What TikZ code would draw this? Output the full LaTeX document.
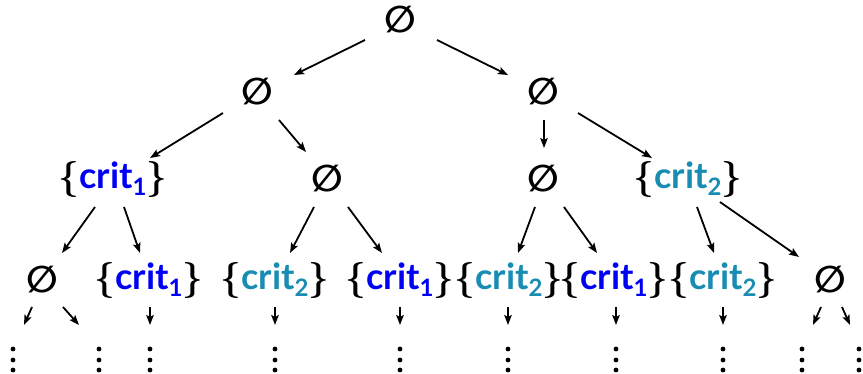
\documentclass[tikz,border=0pt]{standalone}
\usepackage{fix-cm}
\usepackage{amssymb}
\usepackage{fontspec}
\setmainfont{Lato}
\newfontfamily\symfont{DejaVu Sans}
\usetikzlibrary{calc,arrows.meta}
\definecolor{cblue}{RGB}{0,0,245}
\definecolor{cteal}{RGB}{24,140,178}
\newcommand{\myempty}{{\symfont\bfseries\fontsize{37}{40}\selectfont ∅}}
\newcommand{\mybr}[1]{{\fontsize{36}{40}\selectfont\boldmath$\mathstrut#1$}}
\newcommand{\mycrit}[2]{\mybr{\{}\textcolor{#1}{\bfseries crit\raisebox{-0.2em}{\fontsize{24}{24}\selectfont #2}}\mybr{\}}}
\begin{document}
\begin{tikzpicture}[x=1pt,y=-1pt,
  lbl/.style={inner sep=0pt,anchor=center,font=\fontsize{36}{40}\selectfont},
  arr/.style={line width=1.8pt,-{Stealth[length=10pt,width=7.5pt,inset=2pt]}},
  dotfill/.style={fill=black}]
\useasboundingbox (0,0) rectangle (863,373);
% level 0
\node[lbl] (r) at (400,20) {\myempty};
% level 1
\node[lbl] (a) at (257,92) {\myempty};
\node[lbl] (b) at (543,92) {\myempty};
% level 2
\node[lbl] (c) at (113,179) {\mycrit{cblue}{1}};
\node[lbl] (d) at (327,179) {\myempty};
\node[lbl] (e) at (543,179) {\myempty};
\node[lbl] (f) at (688,179) {\mycrit{cteal}{2}};
% level 3
\node[lbl] (g) at (42,280) {\myempty};
\node[lbl] (h) at (149,280) {\mycrit{cblue}{1}};
\node[lbl] (i) at (275,280) {\mycrit{cteal}{2}};
\node[lbl] (j) at (400,280) {\mycrit{cblue}{1}};
\node[lbl] (k) at (509,280) {\mycrit{cteal}{2}};
\node[lbl] (l) at (614,280) {\mycrit{cblue}{1}};
\node[lbl] (m) at (723,280) {\mycrit{cteal}{2}};
\node[lbl] (n) at (830,280) {\myempty};
% dots
\foreach \nm/\xx in {p1/13,p2/99,p3/150,p4/275,p5/400,p6/508,p7/616,p8/723,p9/802,p10/859}{
  \coordinate (\nm) at (\xx,349);
  \fill[dotfill] (\nm) circle (2.4);
  \fill[dotfill] ($(\nm)+(0,11)$) circle (2.4);
  \fill[dotfill] ($(\nm)+(0,21)$) circle (2.4);
}
% arrows
\draw[arr] ($(r)+(-35,20)$) -- ($(a)+(37,-17)$);
\draw[arr] ($(r)+(37,20)$) -- ($(b)+(-35,-17)$);
\draw[arr] ($(a)+(-34,21)$) -- ($(c)+(37,-21)$);
\draw[arr] ($(a)+(22,28)$) -- ($(d)+(-21,-27)$);
\draw[arr] ($(b)+(1,28)$) -- ($(e)+(1,-31)$);
\draw[arr] ($(b)+(35,21)$) -- ($(f)+(-36,-21)$);
\draw[arr] ($(c)+(-18,28)$) -- ($(g)+(20,-27)$);
\draw[arr] ($(c)+(11,28)$) -- ($(h)+(-9,-27)$);
\draw[arr] ($(d)+(-13,28)$) -- ($(i)+(15,-27)$);
\draw[arr] ($(d)+(21,28)$) -- ($(j)+(-18,-27)$);
\draw[arr] ($(e)+(-8,28)$) -- ($(k)+(9,-27)$);
\draw[arr] ($(e)+(21,28)$) -- ($(l)+(-17,-27)$);
\draw[arr] ($(f)+(9,28)$) -- ($(m)+(-9,-27)$);
\draw[arr] ($(f)+(32,23)$) -- ($(n)+(-31,-23)$);
\draw[arr] ($(g)+(-10,27)$) -- ($(p1)+(11,-24)$);
\draw[arr] ($(g)+(21,27)$) -- ($(p2)+(-20,-24)$);
\draw[arr] ($(h)+(1,27)$) -- ($(p3)+(0,-24)$);
\draw[arr] ($(i)+(0,27)$) -- ($(p4)+(0,-24)$);
\draw[arr] ($(j)+(0,27)$) -- ($(p5)+(0,-24)$);
\draw[arr] ($(k)+(-1,27)$) -- ($(p6)+(0,-24)$);
\draw[arr] ($(l)+(2,27)$) -- ($(p7)+(0,-24)$);
\draw[arr] ($(m)+(0,27)$) -- ($(p8)+(0,-24)$);
\draw[arr] ($(n)+(-9,27)$) -- ($(p9)+(11,-24)$);
\draw[arr] ($(n)+(12,27)$) -- ($(p10)+(-9,-24)$);
\end{tikzpicture}
\end{document}
